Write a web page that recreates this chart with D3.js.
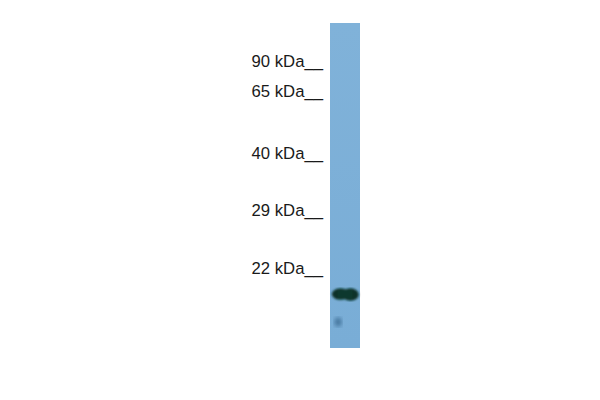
<!DOCTYPE html>
<html><head><meta charset="utf-8">
<script src="https://cdn.jsdelivr.net/npm/d3@7"></script>
<style>html,body{margin:0;padding:0;background:#fff;}</style>
</head><body>
<svg id="c" width="600" height="400"></svg>
<script>
// marker ladder (kDa) and their relative migration (Rf, 0 = lane top, 1 = lane bottom)
const markerLabels = ["90 kDa", "65 kDa", "40 kDa", "29 kDa", "22 kDa"];
const markerRf = [0.117, 0.209, 0.400, 0.575, 0.754];
// detected bands in the lane: relative migration and intensity
const bandRf = [0.834];
const bandIntensity = [1.0];
const spotRf = [0.92];
const spotIntensity = [0.35];

const svg = d3.select("#c");
const laneX = d3.scaleBand().domain(["lane1"]).range([330, 360]).padding(0);
const y = d3.scaleLinear().domain([0, 1]).range([23, 348]);

const defs = svg.append("defs");
const g = defs.append("linearGradient").attr("id","lg").attr("x1",0).attr("x2",0).attr("y1",0).attr("y2",1);
g.append("stop").attr("offset","0%").attr("stop-color","#80b2d9");
g.append("stop").attr("offset","100%").attr("stop-color","#79add6");
defs.append("filter").attr("id","blur").append("feGaussianBlur").attr("stdDeviation",1.0);
defs.append("filter").attr("id","blur2").append("feGaussianBlur").attr("stdDeviation",2.2);

svg.append("rect")
  .attr("x", laneX("lane1")).attr("y", y(0))
  .attr("width", laneX.bandwidth()).attr("height", y(1) - y(0))
  .attr("fill", "url(#lg)");

// marker labels
svg.selectAll("text.m").data(markerLabels).join("text")
  .attr("class","m")
  .attr("x", 323)
  .attr("y", (d,i) => y(markerRf[i]) + 6)
  .attr("text-anchor","end")
  .attr("font-family","'Liberation Sans', Arial, sans-serif")
  .attr("font-size", 16.7)
  .attr("fill","#1a1a1a")
  .text(d => d + "__");

// bands: two overlapping lobes
const bx = laneX("lane1");
const bw = laneX.bandwidth();
bandRf.forEach((r,i) => {
  const cy = y(r);
  const gg = svg.append("g").attr("filter","url(#blur)").attr("opacity", bandIntensity[i]);
  gg.append("ellipse").attr("cx", bx + bw*0.35).attr("cy", cy).attr("rx", bw*0.29).attr("ry", 5.8).attr("fill","#0a3329");
  gg.append("ellipse").attr("cx", bx + bw*0.68).attr("cy", cy + 0.5).attr("rx", bw*0.28).attr("ry", 6.2).attr("fill","#0a3329");
  gg.append("rect").attr("x", bx + bw*0.25).attr("y", cy - 4.5).attr("width", bw*0.5).attr("height", 9).attr("fill","#0d382e");
});
spotRf.forEach((r,i) => {
  svg.append("ellipse").attr("filter","url(#blur2)")
    .attr("cx", bx + bw*0.27).attr("cy", y(r)).attr("rx", 3.5).attr("ry", 4.5)
    .attr("fill","#3a6a92").attr("opacity", spotIntensity[i]*2.4);
});
</script>
</body></html>
